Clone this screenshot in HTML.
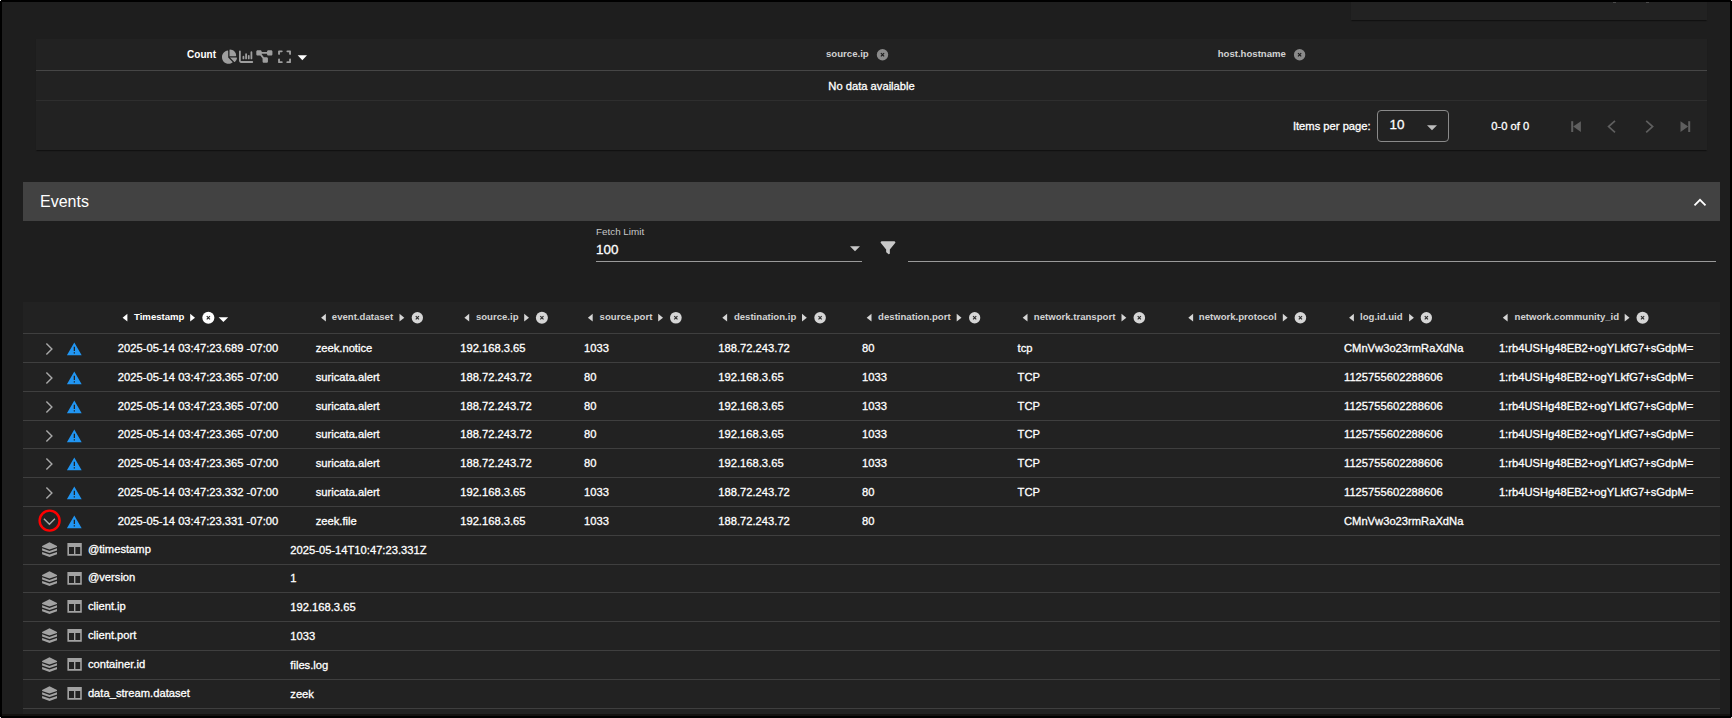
<!DOCTYPE html><html><head><meta charset="utf-8"><title>Events</title><style>
*{box-sizing:border-box}
html,body{margin:0;padding:0}
body{width:1732px;height:718px;background:#000;position:relative;overflow:hidden;font-family:"Liberation Sans", sans-serif;color:#fff}
.a{position:absolute}
.t{position:absolute;white-space:nowrap}
.row{font-size:11.2px;-webkit-text-stroke:0.3px #fff}
.hd{font-size:9.6px;font-weight:bold;color:#d2d2d2}
svg{position:absolute;left:0;top:0;overflow:visible}

</style></head><body>
<div class="a" style="left:2px;top:2px;width:1728px;height:712px;background:#1e1e1e"></div>
<div class="a" style="left:2px;top:714px;width:1728px;height:2px;background:#141210"></div>
<div class="a" style="left:1351px;top:2px;width:356px;height:18px;background:#222;box-shadow:0 2px 1px -1px rgba(0,0,0,.3),0 1px 1px 0 rgba(0,0,0,.15)"></div>
<div class="a" style="left:36px;top:39px;width:1671px;height:111px;background:#222;box-shadow:0 2px 1px -1px rgba(0,0,0,.3),0 1px 1px 0 rgba(0,0,0,.15)"></div>
<div class="a" style="left:36px;top:70px;width:1671px;height:1px;background:#464646"></div>
<div class="a" style="left:36px;top:100px;width:1671px;height:1px;background:#2e2e2e"></div>
<div class="t hd" style="left:187.1px;top:49px;line-height:12px;color:#fff;font-size:10px">Count</div>
<div class="t hd" style="left:826px;top:47.5px;line-height:12px">source.ip</div>
<div class="t hd" style="left:1217.7px;top:47.5px;line-height:12px">host.hostname</div>
<div class="t row" style="left:828.3px;top:79px;line-height:14px">No data available</div>
<div class="t row" style="left:1292.9px;top:119.2px;line-height:14px">Items per page:</div>
<div class="a" style="left:1377px;top:110px;width:72px;height:31.5px;border:1px solid #8a8a8a;border-radius:4px"></div>
<div class="t" style="left:1389.6px;top:117.5px;font-size:13.4px;line-height:14px;-webkit-text-stroke:0.3px #fff">10</div>
<div class="t row" style="left:1491.2px;top:119.2px;line-height:14px">0-0 of 0</div>
<div class="a" style="left:23px;top:182px;width:1697px;height:39px;background:#424242"></div>
<div class="t" style="left:40px;top:193px;font-size:16px;line-height:18px">Events</div>
<div class="t" style="left:596px;top:226px;font-size:9.86px;line-height:12px;color:#c8c8c8">Fetch Limit</div>
<div class="t" style="left:596px;top:241.6px;font-size:13.4px;line-height:15px;-webkit-text-stroke:0.3px #fff">100</div>
<div class="a" style="left:596px;top:261px;width:266px;height:1px;background:#9a9a9a"></div>
<div class="a" style="left:908px;top:261px;width:808px;height:1px;background:#9a9a9a"></div>
<div class="a" style="left:23px;top:302px;width:1697px;height:412px;background:#222222"></div>
<div class="a" style="left:23px;top:333px;width:1697px;height:1px;background:#3f3f3f"></div>
<div class="a" style="left:23px;top:362px;width:1697px;height:1px;background:#3f3f3f"></div>
<div class="a" style="left:23px;top:391px;width:1697px;height:1px;background:#3f3f3f"></div>
<div class="a" style="left:23px;top:420px;width:1697px;height:1px;background:#3f3f3f"></div>
<div class="a" style="left:23px;top:448px;width:1697px;height:1px;background:#3f3f3f"></div>
<div class="a" style="left:23px;top:477px;width:1697px;height:1px;background:#3f3f3f"></div>
<div class="a" style="left:23px;top:506px;width:1697px;height:1px;background:#3f3f3f"></div>
<div class="a" style="left:23px;top:535px;width:1697px;height:1px;background:#3f3f3f"></div>
<div class="a" style="left:23px;top:564px;width:1697px;height:1px;background:#3f3f3f"></div>
<div class="a" style="left:23px;top:592px;width:1697px;height:1px;background:#3f3f3f"></div>
<div class="a" style="left:23px;top:621px;width:1697px;height:1px;background:#3f3f3f"></div>
<div class="a" style="left:23px;top:650px;width:1697px;height:1px;background:#3f3f3f"></div>
<div class="a" style="left:23px;top:679px;width:1697px;height:1px;background:#3f3f3f"></div>
<div class="a" style="left:23px;top:708px;width:1697px;height:1px;background:#3f3f3f"></div>
<div class="t hd" style="left:134px;top:310.5px;line-height:12px;color:#fff">Timestamp</div>
<div class="t hd" style="left:331.8px;top:310.5px;line-height:12px;color:#d2d2d2">event.dataset</div>
<div class="t hd" style="left:475.9px;top:310.5px;line-height:12px;color:#d2d2d2">source.ip</div>
<div class="t hd" style="left:599.6px;top:310.5px;line-height:12px;color:#d2d2d2">source.port</div>
<div class="t hd" style="left:733.9px;top:310.5px;line-height:12px;color:#d2d2d2">destination.ip</div>
<div class="t hd" style="left:878.1px;top:310.5px;line-height:12px;color:#d2d2d2">destination.port</div>
<div class="t hd" style="left:1033.8px;top:310.5px;line-height:12px;color:#d2d2d2">network.transport</div>
<div class="t hd" style="left:1198.8px;top:310.5px;line-height:12px;color:#d2d2d2">network.protocol</div>
<div class="t hd" style="left:1360px;top:310.5px;line-height:12px;color:#d2d2d2">log.id.uid</div>
<div class="t hd" style="left:1514.6px;top:310.5px;line-height:12px;color:#d2d2d2">network.community_id</div>
<div class="t row" style="left:117.8px;top:334.2px;line-height:28.85px">2025-05-14 03:47:23.689 -07:00</div>
<div class="t row" style="left:315.7px;top:334.2px;line-height:28.85px">zeek.notice</div>
<div class="t row" style="left:460.2px;top:334.2px;line-height:28.85px">192.168.3.65</div>
<div class="t row" style="left:584px;top:334.2px;line-height:28.85px">1033</div>
<div class="t row" style="left:718.3px;top:334.2px;line-height:28.85px">188.72.243.72</div>
<div class="t row" style="left:862.1px;top:334.2px;line-height:28.85px">80</div>
<div class="t row" style="left:1017.6px;top:334.2px;line-height:28.85px">tcp</div>
<div class="t row" style="left:1344px;top:334.2px;line-height:28.85px">CMnVw3o23rmRaXdNa</div>
<div class="t row" style="left:1498.9px;top:334.2px;line-height:28.85px">1:rb4USHg48EB2+ogYLkfG7+sGdpM=</div>
<div class="t row" style="left:117.8px;top:363.05px;line-height:28.85px">2025-05-14 03:47:23.365 -07:00</div>
<div class="t row" style="left:315.7px;top:363.05px;line-height:28.85px">suricata.alert</div>
<div class="t row" style="left:460.2px;top:363.05px;line-height:28.85px">188.72.243.72</div>
<div class="t row" style="left:584px;top:363.05px;line-height:28.85px">80</div>
<div class="t row" style="left:718.3px;top:363.05px;line-height:28.85px">192.168.3.65</div>
<div class="t row" style="left:862.1px;top:363.05px;line-height:28.85px">1033</div>
<div class="t row" style="left:1017.6px;top:363.05px;line-height:28.85px">TCP</div>
<div class="t row" style="left:1344px;top:363.05px;line-height:28.85px">1125755602288606</div>
<div class="t row" style="left:1498.9px;top:363.05px;line-height:28.85px">1:rb4USHg48EB2+ogYLkfG7+sGdpM=</div>
<div class="t row" style="left:117.8px;top:391.9px;line-height:28.85px">2025-05-14 03:47:23.365 -07:00</div>
<div class="t row" style="left:315.7px;top:391.9px;line-height:28.85px">suricata.alert</div>
<div class="t row" style="left:460.2px;top:391.9px;line-height:28.85px">188.72.243.72</div>
<div class="t row" style="left:584px;top:391.9px;line-height:28.85px">80</div>
<div class="t row" style="left:718.3px;top:391.9px;line-height:28.85px">192.168.3.65</div>
<div class="t row" style="left:862.1px;top:391.9px;line-height:28.85px">1033</div>
<div class="t row" style="left:1017.6px;top:391.9px;line-height:28.85px">TCP</div>
<div class="t row" style="left:1344px;top:391.9px;line-height:28.85px">1125755602288606</div>
<div class="t row" style="left:1498.9px;top:391.9px;line-height:28.85px">1:rb4USHg48EB2+ogYLkfG7+sGdpM=</div>
<div class="t row" style="left:117.8px;top:419.75px;line-height:28.85px">2025-05-14 03:47:23.365 -07:00</div>
<div class="t row" style="left:315.7px;top:419.75px;line-height:28.85px">suricata.alert</div>
<div class="t row" style="left:460.2px;top:419.75px;line-height:28.85px">188.72.243.72</div>
<div class="t row" style="left:584px;top:419.75px;line-height:28.85px">80</div>
<div class="t row" style="left:718.3px;top:419.75px;line-height:28.85px">192.168.3.65</div>
<div class="t row" style="left:862.1px;top:419.75px;line-height:28.85px">1033</div>
<div class="t row" style="left:1017.6px;top:419.75px;line-height:28.85px">TCP</div>
<div class="t row" style="left:1344px;top:419.75px;line-height:28.85px">1125755602288606</div>
<div class="t row" style="left:1498.9px;top:419.75px;line-height:28.85px">1:rb4USHg48EB2+ogYLkfG7+sGdpM=</div>
<div class="t row" style="left:117.8px;top:448.6px;line-height:28.85px">2025-05-14 03:47:23.365 -07:00</div>
<div class="t row" style="left:315.7px;top:448.6px;line-height:28.85px">suricata.alert</div>
<div class="t row" style="left:460.2px;top:448.6px;line-height:28.85px">188.72.243.72</div>
<div class="t row" style="left:584px;top:448.6px;line-height:28.85px">80</div>
<div class="t row" style="left:718.3px;top:448.6px;line-height:28.85px">192.168.3.65</div>
<div class="t row" style="left:862.1px;top:448.6px;line-height:28.85px">1033</div>
<div class="t row" style="left:1017.6px;top:448.6px;line-height:28.85px">TCP</div>
<div class="t row" style="left:1344px;top:448.6px;line-height:28.85px">1125755602288606</div>
<div class="t row" style="left:1498.9px;top:448.6px;line-height:28.85px">1:rb4USHg48EB2+ogYLkfG7+sGdpM=</div>
<div class="t row" style="left:117.8px;top:478.45px;line-height:28.85px">2025-05-14 03:47:23.332 -07:00</div>
<div class="t row" style="left:315.7px;top:478.45px;line-height:28.85px">suricata.alert</div>
<div class="t row" style="left:460.2px;top:478.45px;line-height:28.85px">192.168.3.65</div>
<div class="t row" style="left:584px;top:478.45px;line-height:28.85px">1033</div>
<div class="t row" style="left:718.3px;top:478.45px;line-height:28.85px">188.72.243.72</div>
<div class="t row" style="left:862.1px;top:478.45px;line-height:28.85px">80</div>
<div class="t row" style="left:1017.6px;top:478.45px;line-height:28.85px">TCP</div>
<div class="t row" style="left:1344px;top:478.45px;line-height:28.85px">1125755602288606</div>
<div class="t row" style="left:1498.9px;top:478.45px;line-height:28.85px">1:rb4USHg48EB2+ogYLkfG7+sGdpM=</div>
<div class="t row" style="left:117.8px;top:507.3px;line-height:28.85px">2025-05-14 03:47:23.331 -07:00</div>
<div class="t row" style="left:315.7px;top:507.3px;line-height:28.85px">zeek.file</div>
<div class="t row" style="left:460.2px;top:507.3px;line-height:28.85px">192.168.3.65</div>
<div class="t row" style="left:584px;top:507.3px;line-height:28.85px">1033</div>
<div class="t row" style="left:718.3px;top:507.3px;line-height:28.85px">188.72.243.72</div>
<div class="t row" style="left:862.1px;top:507.3px;line-height:28.85px">80</div>
<div class="t row" style="left:1344px;top:507.3px;line-height:28.85px">CMnVw3o23rmRaXdNa</div>
<div class="t row" style="left:87.9px;top:535.35px;line-height:28.85px">@timestamp</div>
<div class="t row" style="left:290.3px;top:536.15px;line-height:28.85px">2025-05-14T10:47:23.331Z</div>
<div class="t row" style="left:87.9px;top:563.2px;line-height:28.85px">@version</div>
<div class="t row" style="left:290.3px;top:564px;line-height:28.85px">1</div>
<div class="t row" style="left:87.9px;top:592.05px;line-height:28.85px">client.ip</div>
<div class="t row" style="left:290.3px;top:592.85px;line-height:28.85px">192.168.3.65</div>
<div class="t row" style="left:87.9px;top:620.9px;line-height:28.85px">client.port</div>
<div class="t row" style="left:290.3px;top:621.7px;line-height:28.85px">1033</div>
<div class="t row" style="left:87.9px;top:649.75px;line-height:28.85px">container.id</div>
<div class="t row" style="left:290.3px;top:650.55px;line-height:28.85px">files.log</div>
<div class="t row" style="left:87.9px;top:678.6px;line-height:28.85px">data_stream.dataset</div>
<div class="t row" style="left:290.3px;top:680.4px;line-height:28.85px">zeek</div>
<svg width="1732" height="718" viewBox="0 0 1732 718"><g fill="#9e9e9e"><g transform="translate(221.1,49.6) scale(0.02768)"><path d="M304 240V16.6c0-9 7-16.6 16-16.6C443.7 0 544 100.3 544 224c0 9-7.6 16-16.6 16H304z"/><path d="M32 272C32 150.7 122.1 50.3 239 34.3c9.2-1.3 17 6.1 17 15.4V288L412.5 444.5c6.7 6.7 6.2 17.7-1.5 23.1C371.8 495.6 323.8 512 272 512C139.5 512 32 404.6 32 272z"/><path d="M558.4 288c9.3 0 16.6 7.8 15.4 17c-7.7 55.9-34.6 105.6-73.9 142.3c-6 5.6-15.4 5.2-21.2-.7L320 288H558.4z"/></g><g transform="translate(239,49.6) scale(0.0277)"><path d="M32 32c17.7 0 32 14.3 32 32V400c0 8.8 7.2 16 16 16H480c17.7 0 32 14.3 32 32s-14.3 32-32 32H80c-44.2 0-80-35.8-80-80V64C0 46.3 14.3 32 32 32zM160 224c17.7 0 32 14.3 32 32v64c0 17.7-14.3 32-32 32s-32-14.3-32-32V256c0-17.7 14.3-32 32-32zm128-64V320c0 17.7-14.3 32-32 32s-32-14.3-32-32V160c0-17.7 14.3-32 32-32s32 14.3 32 32zm64 32c17.7 0 32 14.3 32 32v96c0 17.7-14.3 32-32 32s-32-14.3-32-32V224c0-17.7 14.3-32 32-32zM480 96V320c0 17.7-14.3 32-32 32s-32-14.3-32-32V96c0-17.7 14.3-32 32-32s32 14.3 32 32z"/></g><g transform="translate(256.3,49.3) scale(0.028)"><path d="M0 80C0 53.5 21.5 32 48 32h96c26.5 0 48 21.5 48 48V96H384V80c0-26.5 21.5-48 48-48h96c26.5 0 48 21.5 48 48v96c0 26.5-21.5 48-48 48H432c-26.5 0-48-21.5-48-48V160H192v16c0 1.7-.1 3.4-.3 5L272 288h96c26.5 0 48 21.5 48 48v96c0 26.5-21.5 48-48 48H272c-26.5 0-48-21.5-48-48V336c0-1.7 .1-3.4 .3-5L144 224H48c-26.5 0-48-21.5-48-48V80z"/></g><g transform="translate(278.1,49.5) scale(0.0287,0.0282)"><path d="M32 32C14.3 32 0 46.3 0 64v96c0 17.7 14.3 32 32 32s32-14.3 32-32V96h64c17.7 0 32-14.3 32-32s-14.3-32-32-32H32zM64 352c0-17.7-14.3-32-32-32s-32 14.3-32 32v96c0 17.7 14.3 32 32 32h96c17.7 0 32-14.3 32-32s-14.3-32-32-32H64V352zM320 32c-17.7 0-32 14.3-32 32s14.3 32 32 32h64v64c0 17.7 14.3 32 32 32s32-14.3 32-32V64c0-17.7-14.3-32-32-32H320zM448 352c0-17.7-14.3-32-32-32s-32 14.3-32 32v64H320c-17.7 0-32 14.3-32 32s14.3 32 32 32h96c17.7 0 32-14.3 32-32V352z"/></g></g><path fill="#fff" d="M297.7,55.2 h9.3 l-4.65,5z"/><circle cx="882.5" cy="54.8" r="5.7" fill="#8a8a8a"/><path d="M880.9,53.2 l3.2,3.2 m0,-3.2 l-3.2,3.2" stroke="#1c1c1c" stroke-width="1.2"/><circle cx="1299.6" cy="54.8" r="5.7" fill="#8a8a8a"/><path d="M1298,53.2 l3.2,3.2 m0,-3.2 l-3.2,3.2" stroke="#1c1c1c" stroke-width="1.2"/><path fill="#bdbdbd" d="M1427,125.3 h10 l-5,5z"/><g fill="#5f5f5f"><rect x="1571.2" y="121.2" width="2" height="10.8"/><path d="M1580.9,121.2 v10.8 l-7.7,-5.4z"/><path d="M1615,120.9 L1608.6,126.6 L1615,132.3" fill="none" stroke="#5f5f5f" stroke-width="1.7"/><path d="M1646.2,120.9 L1652.6,126.6 L1646.2,132.3" fill="none" stroke="#5f5f5f" stroke-width="1.7"/><rect x="1688.2" y="121.2" width="2" height="10.8"/><path d="M1680.5,121.2 v10.8 l7.7,-5.4z"/></g><path d="M1694.5,205.3 l5.5,-5.5 l5.5,5.5" fill="none" stroke="#fff" stroke-width="1.8"/><path fill="#c8c8c8" d="M850,246.2 h10 l-5,5z"/><path fill="#c8c8c8" transform="translate(880.6,240.3) scale(0.0289)" d="M3.9 54.9C10.5 40.9 24.5 32 40 32H472c15.5 0 29.5 8.9 36.1 22.9s4.6 30.5-5.2 42.5L320 320.9V448c0 12.1-6.8 23.2-17.7 28.6s-23.8 4.3-33.5-3l-64-48c-8.1-6-12.8-15.5-12.8-25.6V320.9L9 97.3C-.7 85.4-2.8 68.8 3.9 54.9z"/><path fill="#fff" d="M127.4,313.8 v7.8 l-4.8,-3.9z"/><path fill="#fff" d="M190.2,313.8 v7.8 l4.8,-3.9z"/><circle cx="208.35" cy="317.75" r="6.05" fill="#fff"/><path d="M206.75,316.15 l3.2,3.2 m0,-3.2 l-3.2,3.2" stroke="#2a2a2a" stroke-width="1.15"/><path fill="#d6d6d6" d="M325.9,313.8 v7.8 l-4.8,-3.9z"/><path fill="#d6d6d6" d="M399.5,313.8 v7.8 l4.8,-3.9z"/><circle cx="417.35" cy="317.75" r="5.65" fill="#d6d6d6"/><path d="M415.75,316.15 l3.2,3.2 m0,-3.2 l-3.2,3.2" stroke="#2a2a2a" stroke-width="1.15"/><path fill="#d6d6d6" d="M469.2,313.8 v7.8 l-4.8,-3.9z"/><path fill="#d6d6d6" d="M524.2,313.8 v7.8 l4.8,-3.9z"/><circle cx="541.9" cy="317.75" r="6" fill="#d6d6d6"/><path d="M540.3,316.15 l3.2,3.2 m0,-3.2 l-3.2,3.2" stroke="#2a2a2a" stroke-width="1.15"/><path fill="#d6d6d6" d="M592.7,313.8 v7.8 l-4.8,-3.9z"/><path fill="#d6d6d6" d="M658.2,313.8 v7.8 l4.8,-3.9z"/><circle cx="675.85" cy="317.75" r="5.85" fill="#d6d6d6"/><path d="M674.25,316.15 l3.2,3.2 m0,-3.2 l-3.2,3.2" stroke="#2a2a2a" stroke-width="1.15"/><path fill="#d6d6d6" d="M727.1,313.8 v7.8 l-4.8,-3.9z"/><path fill="#d6d6d6" d="M802,313.8 v7.8 l4.8,-3.9z"/><circle cx="820.1" cy="317.75" r="5.8" fill="#d6d6d6"/><path d="M818.5,316.15 l3.2,3.2 m0,-3.2 l-3.2,3.2" stroke="#2a2a2a" stroke-width="1.15"/><path fill="#d6d6d6" d="M871.5,313.8 v7.8 l-4.8,-3.9z"/><path fill="#d6d6d6" d="M956.7,313.8 v7.8 l4.8,-3.9z"/><circle cx="974.65" cy="317.75" r="5.65" fill="#d6d6d6"/><path d="M973.05,316.15 l3.2,3.2 m0,-3.2 l-3.2,3.2" stroke="#2a2a2a" stroke-width="1.15"/><path fill="#d6d6d6" d="M1027.5,313.8 v7.8 l-4.8,-3.9z"/><path fill="#d6d6d6" d="M1121.5,313.8 v7.8 l4.8,-3.9z"/><circle cx="1139.3" cy="317.75" r="5.8" fill="#d6d6d6"/><path d="M1137.7,316.15 l3.2,3.2 m0,-3.2 l-3.2,3.2" stroke="#2a2a2a" stroke-width="1.15"/><path fill="#d6d6d6" d="M1193.1,313.8 v7.8 l-4.8,-3.9z"/><path fill="#d6d6d6" d="M1282.8,313.8 v7.8 l4.8,-3.9z"/><circle cx="1300.4" cy="317.75" r="5.8" fill="#d6d6d6"/><path d="M1298.8,316.15 l3.2,3.2 m0,-3.2 l-3.2,3.2" stroke="#2a2a2a" stroke-width="1.15"/><path fill="#d6d6d6" d="M1353.9,313.8 v7.8 l-4.8,-3.9z"/><path fill="#d6d6d6" d="M1409.1,313.8 v7.8 l4.8,-3.9z"/><circle cx="1426.35" cy="317.75" r="5.65" fill="#d6d6d6"/><path d="M1424.75,316.15 l3.2,3.2 m0,-3.2 l-3.2,3.2" stroke="#2a2a2a" stroke-width="1.15"/><path fill="#d6d6d6" d="M1507.6,313.8 v7.8 l-4.8,-3.9z"/><path fill="#d6d6d6" d="M1624.7,313.8 v7.8 l4.8,-3.9z"/><circle cx="1642.55" cy="317.75" r="6.05" fill="#d6d6d6"/><path d="M1640.95,316.15 l3.2,3.2 m0,-3.2 l-3.2,3.2" stroke="#2a2a2a" stroke-width="1.15"/><path fill="#fff" d="M218.6,317.3 h9.6 l-4.8,4.8z"/><path d="M46.4,343.5 l5.5,5.5 l-5.5,5.5" fill="none" stroke="#a8a8a8" stroke-width="1.4"/><path fill="#2196f3" fill-rule="evenodd" d="M74.3,342.4 l7.4,12.8 h-14.8z M73.7,346.7 h1.3 v4.4 h-1.3z M73.7,352.3 h1.3 v1.3 h-1.3z"/><path d="M46.4,372.5 l5.5,5.5 l-5.5,5.5" fill="none" stroke="#a8a8a8" stroke-width="1.4"/><path fill="#2196f3" fill-rule="evenodd" d="M74.3,371.4 l7.4,12.8 h-14.8z M73.7,375.7 h1.3 v4.4 h-1.3z M73.7,381.3 h1.3 v1.3 h-1.3z"/><path d="M46.4,401.5 l5.5,5.5 l-5.5,5.5" fill="none" stroke="#a8a8a8" stroke-width="1.4"/><path fill="#2196f3" fill-rule="evenodd" d="M74.3,400.4 l7.4,12.8 h-14.8z M73.7,404.7 h1.3 v4.4 h-1.3z M73.7,410.3 h1.3 v1.3 h-1.3z"/><path d="M46.4,430.5 l5.5,5.5 l-5.5,5.5" fill="none" stroke="#a8a8a8" stroke-width="1.4"/><path fill="#2196f3" fill-rule="evenodd" d="M74.3,429.4 l7.4,12.8 h-14.8z M73.7,433.7 h1.3 v4.4 h-1.3z M73.7,439.3 h1.3 v1.3 h-1.3z"/><path d="M46.4,458.5 l5.5,5.5 l-5.5,5.5" fill="none" stroke="#a8a8a8" stroke-width="1.4"/><path fill="#2196f3" fill-rule="evenodd" d="M74.3,457.4 l7.4,12.8 h-14.8z M73.7,461.7 h1.3 v4.4 h-1.3z M73.7,467.3 h1.3 v1.3 h-1.3z"/><path d="M46.4,487.5 l5.5,5.5 l-5.5,5.5" fill="none" stroke="#a8a8a8" stroke-width="1.4"/><path fill="#2196f3" fill-rule="evenodd" d="M74.3,486.4 l7.4,12.8 h-14.8z M73.7,490.7 h1.3 v4.4 h-1.3z M73.7,496.3 h1.3 v1.3 h-1.3z"/><path d="M43.9,518.8 l5.5,5.5 l5.5,-5.5" fill="none" stroke="#a8a8a8" stroke-width="1.4"/><circle cx="49.6" cy="520.6" r="10" fill="none" stroke="#f00" stroke-width="2.4"/><path fill="#2196f3" fill-rule="evenodd" d="M74.3,515.4 l7.4,12.8 h-14.8z M73.7,519.7 h1.3 v4.4 h-1.3z M73.7,525.3 h1.3 v1.3 h-1.3z"/><g fill="#a2a2a2"><path d="M49.5,542.3 L57,546.1 V547.1 L49.5,549.6 L42.1,547.1 V546.1 Z"/><path d="M42.1,548.3 L49.5,550.9 L57,548.3 V550.5 L49.5,552.9 L42.1,550.5 Z"/><path d="M42.1,552.1 L49.5,554.5 L57,552.1 V554.3 L49.5,557.1 L42.1,554.3 Z"/></g><path fill="#a2a2a2" fill-rule="evenodd" d="M67.4,543.1 h14.4 v12.6 h-14.4z M69,546.9 v7.2 h5 v-7.2z M75.4,546.9 v7.2 h4.8 v-7.2z"/><g fill="#a2a2a2"><path d="M49.5,571.3 L57,575.1 V576.1 L49.5,578.6 L42.1,576.1 V575.1 Z"/><path d="M42.1,577.3 L49.5,579.9 L57,577.3 V579.5 L49.5,581.9 L42.1,579.5 Z"/><path d="M42.1,581.1 L49.5,583.5 L57,581.1 V583.3 L49.5,586.1 L42.1,583.3 Z"/></g><path fill="#a2a2a2" fill-rule="evenodd" d="M67.4,572.1 h14.4 v12.6 h-14.4z M69,575.9 v7.2 h5 v-7.2z M75.4,575.9 v7.2 h4.8 v-7.2z"/><g fill="#a2a2a2"><path d="M49.5,599.3 L57,603.1 V604.1 L49.5,606.6 L42.1,604.1 V603.1 Z"/><path d="M42.1,605.3 L49.5,607.9 L57,605.3 V607.5 L49.5,609.9 L42.1,607.5 Z"/><path d="M42.1,609.1 L49.5,611.5 L57,609.1 V611.3 L49.5,614.1 L42.1,611.3 Z"/></g><path fill="#a2a2a2" fill-rule="evenodd" d="M67.4,600.1 h14.4 v12.6 h-14.4z M69,603.9 v7.2 h5 v-7.2z M75.4,603.9 v7.2 h4.8 v-7.2z"/><g fill="#a2a2a2"><path d="M49.5,628.3 L57,632.1 V633.1 L49.5,635.6 L42.1,633.1 V632.1 Z"/><path d="M42.1,634.3 L49.5,636.9 L57,634.3 V636.5 L49.5,638.9 L42.1,636.5 Z"/><path d="M42.1,638.1 L49.5,640.5 L57,638.1 V640.3 L49.5,643.1 L42.1,640.3 Z"/></g><path fill="#a2a2a2" fill-rule="evenodd" d="M67.4,629.1 h14.4 v12.6 h-14.4z M69,632.9 v7.2 h5 v-7.2z M75.4,632.9 v7.2 h4.8 v-7.2z"/><g fill="#a2a2a2"><path d="M49.5,657.3 L57,661.1 V662.1 L49.5,664.6 L42.1,662.1 V661.1 Z"/><path d="M42.1,663.3 L49.5,665.9 L57,663.3 V665.5 L49.5,667.9 L42.1,665.5 Z"/><path d="M42.1,667.1 L49.5,669.5 L57,667.1 V669.3 L49.5,672.1 L42.1,669.3 Z"/></g><path fill="#a2a2a2" fill-rule="evenodd" d="M67.4,658.1 h14.4 v12.6 h-14.4z M69,661.9 v7.2 h5 v-7.2z M75.4,661.9 v7.2 h4.8 v-7.2z"/><g fill="#a2a2a2"><path d="M49.5,686.3 L57,690.1 V691.1 L49.5,693.6 L42.1,691.1 V690.1 Z"/><path d="M42.1,692.3 L49.5,694.9 L57,692.3 V694.5 L49.5,696.9 L42.1,694.5 Z"/><path d="M42.1,696.1 L49.5,698.5 L57,696.1 V698.3 L49.5,701.1 L42.1,698.3 Z"/></g><path fill="#a2a2a2" fill-rule="evenodd" d="M67.4,687.1 h14.4 v12.6 h-14.4z M69,690.9 v7.2 h5 v-7.2z M75.4,690.9 v7.2 h4.8 v-7.2z"/></svg>
<div class="a" style="left:1612.5px;top:2px;width:3px;height:1px;background:#4a4a4a"></div>
<div class="a" style="left:1645.5px;top:2px;width:3px;height:1px;background:#4a4a4a"></div>
<div class="a" style="left:0px;top:0px;width:1px;height:1px;background:#ddd"></div>
<div class="a" style="left:1731px;top:0px;width:1px;height:1px;background:#ddd"></div>
<div class="a" style="left:0px;top:717px;width:1px;height:1px;background:#ddd"></div>
<div class="a" style="left:1731px;top:717px;width:1px;height:1px;background:#ddd"></div>
</body></html>
